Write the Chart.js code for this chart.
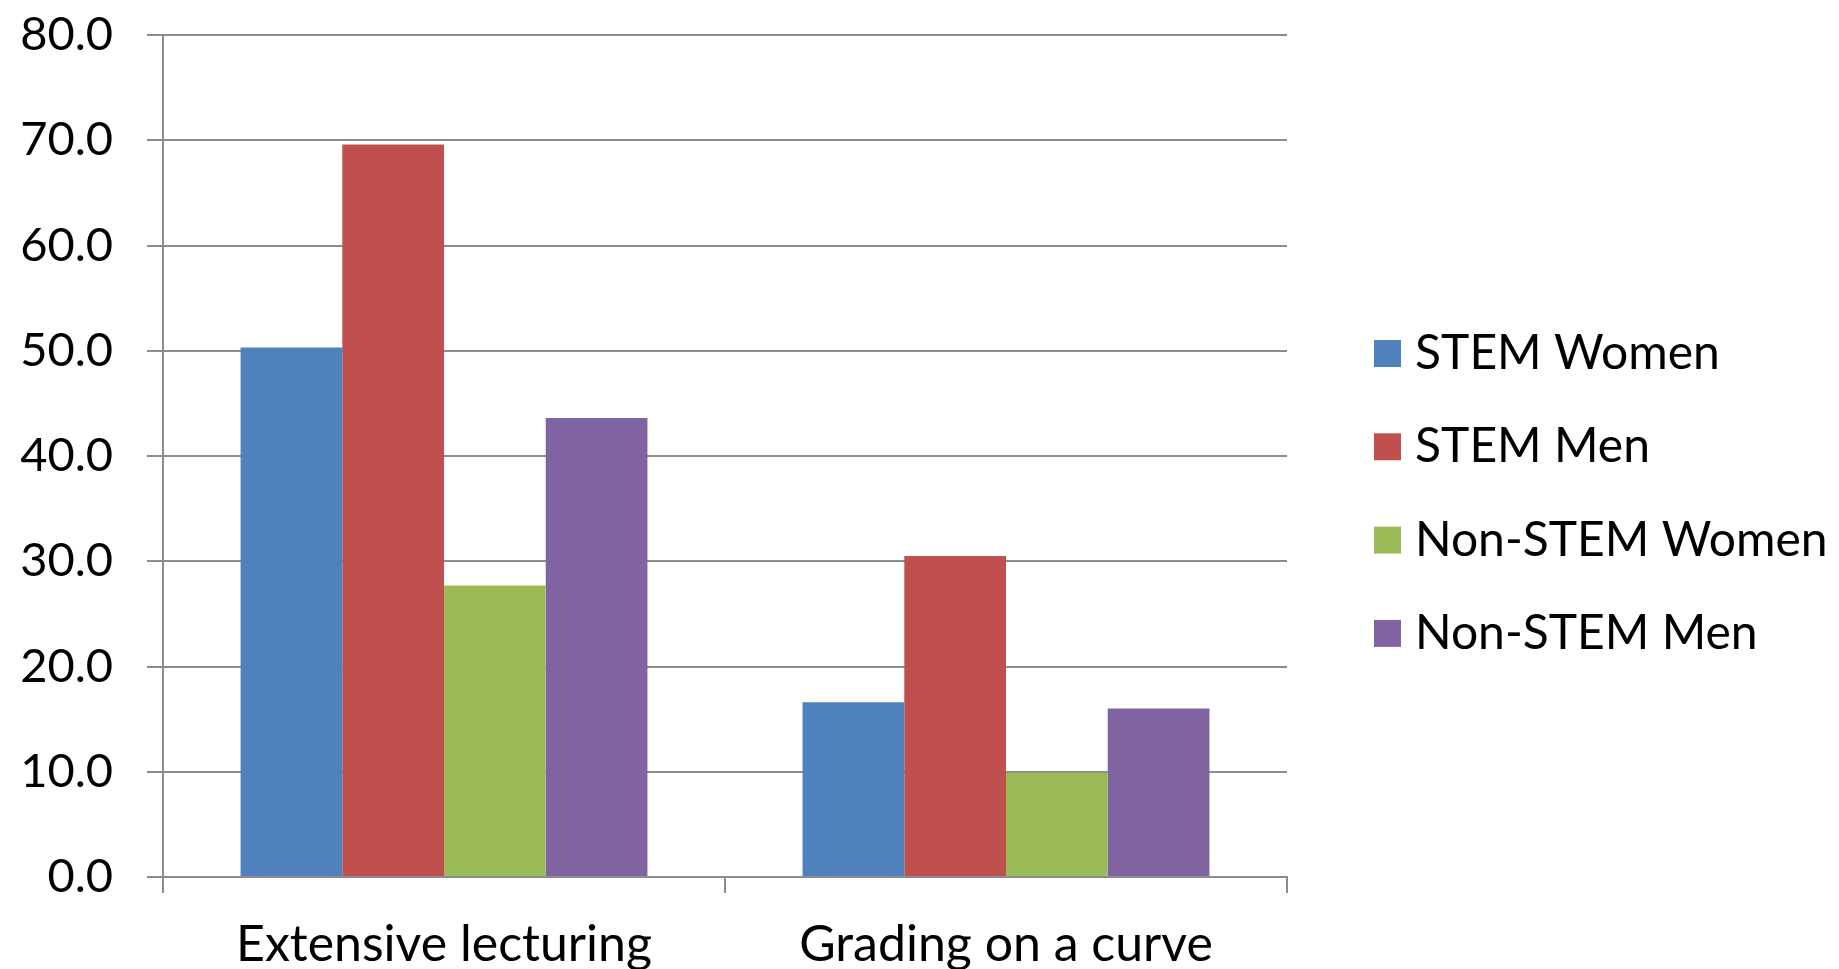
<!DOCTYPE html>
<html>
<head>
<meta charset="utf-8">
<script src="https://cdn.jsdelivr.net/npm/chart.js@4.4.1/dist/chart.umd.min.js"></script>
<style>
  html, body { margin: 0; padding: 0; background: #fff; overflow: hidden; }
  #wrap { width: 1839px; height: 969px; position: relative; }
</style>
</head>
<body>
<div id="wrap"><canvas id="c" width="1839" height="969"></canvas></div>
<script>
// Survey shares (%) by group for two teaching practices
const categories = ['Extensive lecturing', 'Grading on a curve'];
const seriesNames = ['STEM Women', 'STEM Men', 'Non-STEM Women', 'Non-STEM Men'];
const stemWomen = [50.3, 16.6];
const stemMen = [69.6, 30.5];
const nonStemWomen = [27.7, 9.9];
const nonStemMen = [43.6, 16.0];
const seriesColors = ['#4F81BD', '#C0504D', '#9BBB59', '#8064A2'];
const yMin = 0, yMax = 80, yStep = 10;

const FONT = 'Lato, "Open Sans", sans-serif';
const GRID = '#8c8c8c';

// Legend drawn as a vertical list to the right of the plot
const sideLegend = {
  id: 'sideLegend',
  afterDraw(chart, args, opts) {
    const ctx = chart.ctx;
    ctx.save();
    ctx.font = opts.font;
    ctx.textAlign = 'left';
    ctx.textBaseline = 'alphabetic';
    chart.data.datasets.forEach((ds, i) => {
      const base = opts.firstBaseline + i * opts.rowGap;
      ctx.fillStyle = ds.backgroundColor;
      ctx.fillRect(opts.boxX, base - opts.boxLift - opts.boxSize, opts.boxSize, opts.boxSize);
      ctx.fillStyle = opts.color;
      ctx.fillText(ds.label, opts.textX, base);
    });
    ctx.restore();
  }
};

const seriesValues = [stemWomen, stemMen, nonStemWomen, nonStemMen];

new Chart(document.getElementById('c'), {
  type: 'bar',
  data: {
    labels: categories,
    datasets: seriesNames.map((name, i) => ({
      label: name,
      data: seriesValues[i],
      backgroundColor: seriesColors[i],
      borderWidth: 0,
      categoryPercentage: 0.724,
      barPercentage: 1.0
    }))
  },
  options: {
    responsive: false,
    animation: false,
    devicePixelRatio: 1,
    layout: { padding: { top: 35, right: 552, bottom: 0, left: 0 } },
    plugins: {
      legend: { display: false },
      tooltip: { enabled: false },
      sideLegend: {
        font: '48px ' + FONT,
        color: '#000',
        boxX: 1374,
        boxSize: 27,
        boxLift: 2,
        textX: 1415,
        firstBaseline: 369,
        rowGap: 93.3
      }
    },
    scales: {
      x: {
        grid: { drawOnChartArea: false, offset: true, tickLength: 16, color: GRID, lineWidth: 2 },
        border: { display: true, color: GRID, width: 2 },
        ticks: { color: '#000', font: { family: FONT, size: 50 }, padding: 22 },
        afterFit(scale) {
          scale.height = 92;
          scale.paddingLeft = 0;
          scale.paddingRight = 0;
        }
      },
      y: {
        min: yMin,
        max: yMax,
        ticks: {
          stepSize: yStep,
          color: '#000',
          font: { family: FONT, size: 47 },
          padding: 34,
          callback: v => Number(v).toFixed(1)
        },
        grid: { color: GRID, lineWidth: 2, tickLength: 16 },
        border: { display: true, color: GRID, width: 2 },
        afterFit(scale) {
          scale.width = 163;
          scale.paddingTop = 0;
          scale.paddingBottom = 0;
        }
      }
    }
  },
  plugins: [sideLegend]
});
</script>
</body>
</html>
